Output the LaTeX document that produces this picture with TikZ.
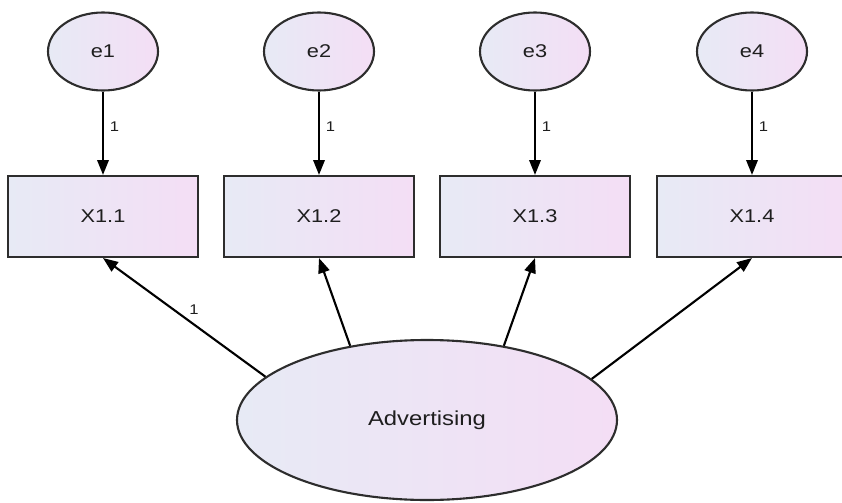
\documentclass[tikz,border=0pt]{standalone}
\usepackage{fontspec}
\setmainfont{Liberation Sans}[FakeStretch=1.18]
\usetikzlibrary{shapes.geometric,arrows.meta}

\definecolor{fillleft}{RGB}{231,234,245}
\definecolor{fillright}{RGB}{244,222,245}
\definecolor{edgegray}{RGB}{45,45,45}
\definecolor{textgray}{RGB}{30,30,30}

\tikzset{
  shaded/.style={draw=edgegray, line width=1.2pt, left color=fillleft, right color=fillright, text=textgray},
  obsbox/.style={shaded, rectangle, minimum width=3.8cm, minimum height=1.62cm, font=\fontsize{10.5}{12}\selectfont},
  errnode/.style={shaded, ellipse, inner sep=0pt, minimum width=2.2cm, minimum height=1.56cm, font=\fontsize{10.5}{12}\selectfont},
  latnode/.style={shaded, ellipse, inner sep=0pt, minimum width=7.6cm, minimum height=3.2cm, font=\fontsize{11.5}{13}\selectfont},
  arr/.style={-{Triangle[length=8.5pt,width=6.5pt]}, line width=1.2pt, black},
  wt/.style={font=\fontsize{8}{9}\selectfont, text=textgray}
}

\begin{document}
\begin{tikzpicture}
\useasboundingbox (0,0) rectangle (16.84,10.04);

% Error terms
\node[errnode] (e1) at (2.06, 9.01) {e1};
\node[errnode] (e2) at (6.38, 9.01) {e2};
\node[errnode] (e3) at (10.70, 9.01) {e3};
\node[errnode] (e4) at (15.04, 9.01) {e4};

% Indicators
\node[obsbox] (x11) at (2.06, 5.71) {X1.1};
\node[obsbox] (x12) at (6.38, 5.71) {X1.2};
\node[obsbox] (x13) at (10.70, 5.71) {X1.3};
\node[obsbox] (x14) at (15.04, 5.71) {X1.4};

% Latent variable
\node[latnode] (adv) at (8.54, 1.64) {Advertising};

% Error paths
\draw[arr] (e1) -- node[wt, right, pos=0.42] {1} (x11);
\draw[arr] (e2) -- node[wt, right, pos=0.42] {1} (x12);
\draw[arr] (e3) -- node[wt, right, pos=0.42] {1} (x13);
\draw[arr] (e4) -- node[wt, right, pos=0.42] {1} (x14);

% Loadings
\draw[arr] (adv.165) -- node[wt, above, pos=0.44, yshift=2pt] {1} (x11.south);
\draw[arr] (adv.136) -- (x12.south);
\draw[arr] (adv.44) -- (x13.south);
\draw[arr] (adv.14.5) -- (x14.south);
\end{tikzpicture}
\end{document}
